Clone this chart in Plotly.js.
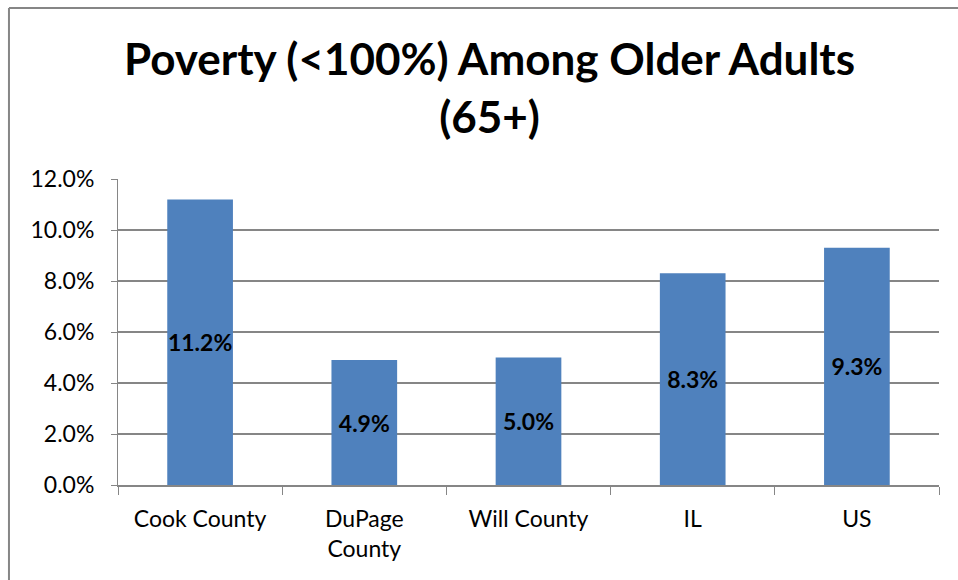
<!DOCTYPE html>
<html>
<head>
<meta charset="utf-8">
<script src="https://cdn.plot.ly/plotly-3.0.1.min.js"></script>
<style>html,body{margin:0;padding:0;background:#fff;}#chart{width:958px;height:580px;}</style>
</head>
<body>
<div id="chart"></div>
<script>
const categories = ["Cook County", "DuPage<br>County", "Will County", "IL", "US"];
const povertyPct = [11.2, 4.9, 5.0, 8.3, 9.3];
const yTickVals = [0, 2, 4, 6, 8, 10, 12];
const yTickText = ["0.0%", "2.0%", "4.0%", "6.0%", "8.0%", "10.0%", "12.0%"];
const chartTitle = "Poverty (&lt;100%) Among Older Adults<br>(65+)";

const FONT = "Lato, 'Open Sans', 'Liberation Sans', sans-serif";

const trace = {
  type: "bar",
  x: categories,
  y: povertyPct,
  marker: {color: "#4F81BD", line: {width: 0}},
  texttemplate: "%{y:.1f}%",
  textposition: "inside",
  insidetextanchor: "middle",
  constraintext: "none",
  textangle: 0,
  textfont: {family: FONT, size: 23, color: "#000", weight: "bold"},
  hoverinfo: "skip"
};

const layout = {
  width: 958, height: 580,
  margin: {l: 118, r: 19, t: 179, b: 95},
  paper_bgcolor: "#fff", plot_bgcolor: "#fff",
  showlegend: false,
  bargap: 0.6,
  title: {
    text: chartTitle,
    font: {family: FONT, size: 44, color: "#000", weight: "bold"},
    x: 0.511, xanchor: "center", xref: "container",
    y: 0.87, yanchor: "middle", yref: "container"
  },
  xaxis: {
    type: "category",
    showline: true, linecolor: "#868686", linewidth: 2,
    ticks: "outside", tickson: "boundaries", ticklen: 8, tickcolor: "#868686", tickwidth: 1,
    tickfont: {family: FONT, size: 23, color: "#000"},
    ticklabelstandoff: 12,
    showgrid: false, zeroline: false, fixedrange: true
  },
  yaxis: {
    range: [0, 12],
    tickvals: yTickVals, ticktext: yTickText,
    showline: true, linecolor: "#868686", linewidth: 1,
    ticks: "outside", ticklen: 6, tickcolor: "#868686",
    ticklabelstandoff: 12,
    showgrid: true, gridcolor: "#868686", gridwidth: 1.5,
    zeroline: false,
    tickfont: {family: FONT, size: 23, color: "#000"},
    fixedrange: true
  },
  shapes: [
    {type: "line", xref: "paper", yref: "paper", x0: -0.1328, x1: 1.2, y0: 1.5588, y1: 1.5588,
     line: {color: "#868686", width: 2}},
    {type: "line", xref: "paper", yref: "paper", x0: -0.1328, x1: -0.1328, y0: -0.5, y1: 1.5588,
     line: {color: "#868686", width: 2}}
  ]
};

Plotly.newPlot("chart", [trace], layout, {displayModeBar: false, staticPlot: true});
</script>
</body>
</html>
